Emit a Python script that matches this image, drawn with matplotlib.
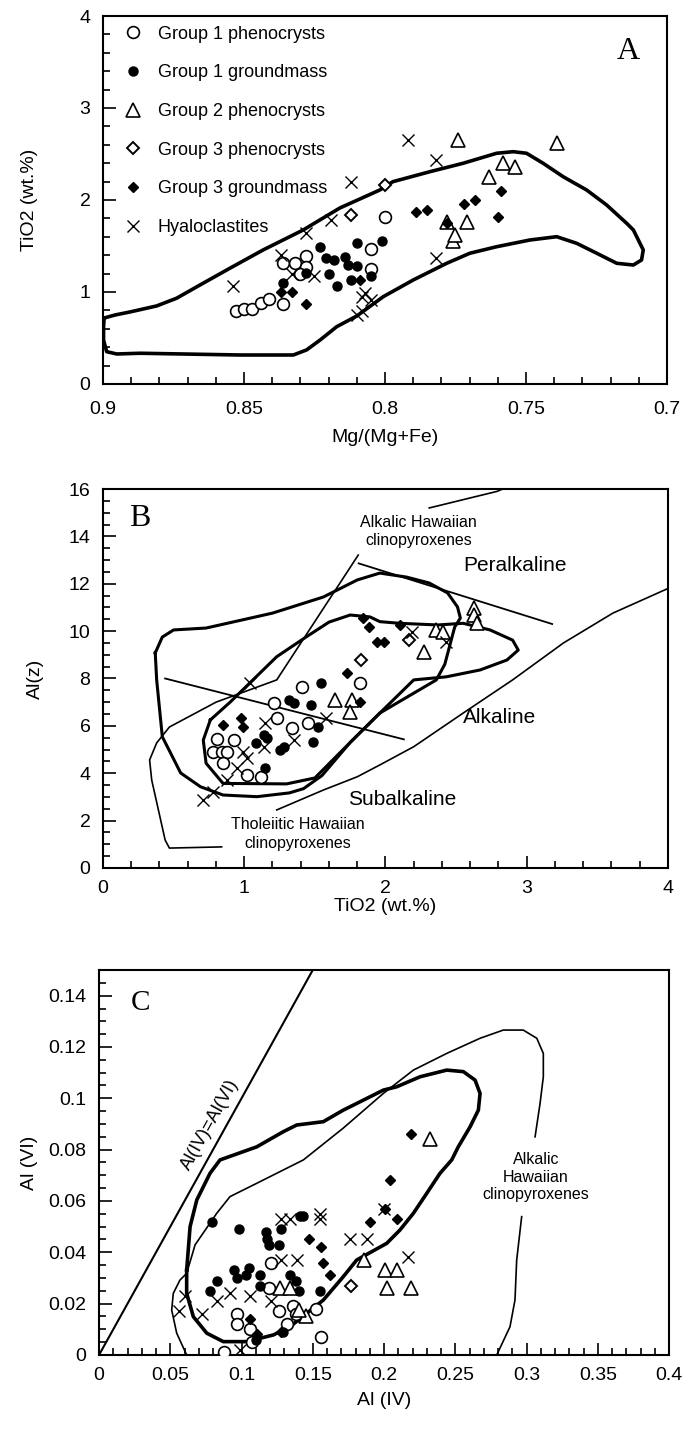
"""Clinopyroxene composition plots (A: TiO2 vs Mg#, B: Al(z) vs TiO2, C: Al(VI) vs Al(IV))."""
import matplotlib
matplotlib.use("Agg")
import matplotlib.pyplot as plt
from matplotlib.ticker import MultipleLocator, FormatStrFormatter

plt.rcParams['font.family'] = ['Liberation Sans', 'DejaVu Sans']

# ---------------- panel A: TiO2 vs Mg/(Mg+Fe)
a_g1p_x = [0.853, 0.850, 0.847, 0.844, 0.841, 0.836, 0.836, 0.832, 0.828, 0.828, 0.830, 0.805, 0.805, 0.800]
a_g1p_y = [0.79, 0.81, 0.82, 0.88, 0.92, 0.87, 1.31, 1.32, 1.39, 1.27, 1.20, 1.47, 1.25, 1.82]
a_g1g_x = [0.823, 0.821, 0.818, 0.814, 0.813, 0.810, 0.810, 0.820, 0.817, 0.812, 0.801, 0.805, 0.836, 0.828]
a_g1g_y = [1.49, 1.37, 1.35, 1.38, 1.29, 1.53, 1.28, 1.20, 1.06, 1.13, 1.55, 1.17, 1.10, 1.21]
a_g2p_x = [0.774, 0.739, 0.758, 0.754, 0.763, 0.778, 0.771, 0.776, 0.775]
a_g2p_y = [2.65, 2.62, 2.40, 2.36, 2.25, 1.76, 1.76, 1.55, 1.62]
a_g3p_x = [0.800, 0.812]
a_g3p_y = [2.16, 1.84]
a_g3g_x = [0.759, 0.768, 0.772, 0.785, 0.789, 0.760, 0.778, 0.837, 0.833, 0.828, 0.809]
a_g3g_y = [2.10, 2.00, 1.96, 1.89, 1.87, 1.81, 1.75, 1.00, 1.00, 0.87, 1.13]
a_hya_x = [0.812, 0.819, 0.792, 0.782, 0.782, 0.854, 0.837, 0.833, 0.828, 0.825, 0.810, 0.808, 0.808, 0.807, 0.805]
a_hya_y = [2.20, 1.78, 2.65, 2.44, 1.37, 1.07, 1.40, 1.20, 1.64, 1.17, 0.75, 0.79, 0.95, 0.99, 0.91]

# outline of field in A
a_field_x = [0.8996, 0.8957, 0.8904, 0.881, 0.8739, 0.8656, 0.855, 0.8432, 0.829, 0.816, 0.8018,
             0.7972, 0.784, 0.7723, 0.7604, 0.7545, 0.7498, 0.7439, 0.7368, 0.7285, 0.7214, 0.7143,
             0.7119, 0.7084, 0.709, 0.7119, 0.7178, 0.7249, 0.732, 0.7391, 0.7486, 0.7604, 0.7699,
             0.7781, 0.79, 0.8006, 0.81, 0.8171, 0.823, 0.8278, 0.8325, 0.8514, 0.8869, 0.8951,
             0.8987, 0.8998, 0.8998, 0.8996]
a_field_y = [0.717, 0.75, 0.783, 0.848, 0.932, 1.076, 1.258, 1.457, 1.674, 1.913, 2.109,
             2.199, 2.308, 2.399, 2.508, 2.525, 2.508, 2.399, 2.253, 2.109, 1.946, 1.747,
             1.674, 1.457, 1.348, 1.293, 1.312, 1.421, 1.529, 1.601, 1.565, 1.492, 1.421,
             1.312, 1.13, 0.949, 0.739, 0.623, 0.478, 0.37, 0.315, 0.315, 0.334, 0.326,
             0.351, 0.478, 0.623, 0.717]

# ---------------- panel B: Al(z) vs TiO2
b_g1p_x = [0.81, 0.93, 0.78, 0.84, 0.88, 0.85, 1.02, 1.12, 1.23, 1.34, 1.45, 1.41, 1.82, 1.21]
b_g1p_y = [5.43, 5.40, 4.91, 4.91, 4.91, 4.42, 3.93, 3.85, 6.32, 5.90, 6.11, 7.65, 7.80, 6.95]
b_g1g_x = [1.32, 1.35, 1.47, 1.54, 1.08, 1.14, 1.16, 1.25, 1.28, 1.15, 1.49, 1.52]
b_g1g_y = [7.09, 6.95, 6.88, 7.80, 5.26, 5.61, 5.47, 4.98, 5.12, 4.21, 5.33, 5.96]
b_g2p_x = [2.63, 2.63, 2.65, 2.36, 2.41, 2.27, 1.64, 1.76, 1.75]
b_g2p_y = [10.96, 10.68, 10.33, 10.05, 9.98, 9.13, 7.09, 7.09, 6.60]
b_g3p_x = [1.83, 2.17]
b_g3p_y = [8.78, 9.62]
b_g3g_x = [0.85, 0.98, 0.99, 1.82, 1.84, 1.88, 1.94, 1.99, 1.73, 2.10]
b_g3g_y = [6.04, 6.32, 5.96, 7.02, 10.54, 10.19, 9.55, 9.55, 8.24, 10.26]
b_hya_x = [1.04, 1.15, 1.14, 0.99, 1.02, 0.95, 0.88, 0.78, 0.71, 1.35, 1.58, 2.43, 2.19]
b_hya_y = [7.80, 6.11, 5.12, 4.91, 4.63, 4.21, 3.71, 3.22, 2.87, 5.40, 6.32, 9.55, 9.98]

b_outer_x = [0.37, 0.42, 0.5, 0.73, 1.2, 1.56, 1.8, 1.96, 2.15, 2.31, 2.44, 2.51, 2.53, 2.49, 2.46,
             2.42, 2.36, 1.96, 1.75, 1.55, 1.42, 1.32, 1.09, 0.85, 0.69, 0.55, 0.42, 0.38, 0.37]
b_outer_y = [9.08, 9.75, 10.05, 10.13, 10.76, 11.44, 12.16, 12.45, 12.28, 12.03, 11.61, 11.02, 10.55,
             10.17, 9.5, 8.6, 7.94, 6.54, 5.3, 3.9, 3.35, 3.17, 3.01, 3.08, 3.43, 4.01, 5.54, 7.94, 9.08]
b_inner_x = [0.76, 0.9, 1.23, 1.44, 1.6, 1.75, 1.89, 1.96, 2.1, 2.37, 2.55, 2.74, 2.9, 2.94, 2.86,
             2.67, 2.43, 2.2, 1.96, 1.7, 1.5, 1.3, 0.85, 0.73, 0.71, 0.76]
b_inner_y = [6.25, 7.0, 8.92, 9.76, 10.38, 10.68, 10.6, 10.4, 10.33, 10.26, 10.33, 10.05, 9.62, 9.2,
             8.78, 8.36, 8.07, 7.94, 6.54, 5.0, 3.8, 3.55, 3.57, 4.42, 5.40, 6.25]
b_thol_x = [0.84, 0.47, 0.44, 0.345, 0.33, 0.38, 0.47, 0.8, 1.23, 1.807]
b_thol_y = [0.89, 0.84, 1.18, 3.71, 4.56, 5.28, 5.95, 7.0, 7.94, 13.21]
b_alkhaw_x = [2.31, 2.79, 2.95]
b_alkhaw_y = [15.2, 15.9, 16.3]
b_divide_x = [1.23, 1.56, 1.8, 1.96, 2.2, 2.55, 2.9, 3.26, 3.61, 4.0]
b_divide_y = [2.45, 3.29, 3.85, 4.35, 5.12, 6.54, 7.94, 9.5, 10.76, 11.8]
b_line1_x = [1.81, 3.18]
b_line1_y = [12.86, 10.30]
b_line2_x = [0.44, 2.13]
b_line2_y = [8.0, 5.43]

# ---------------- panel C: Al(VI) vs Al(IV)
c_g1p_x = [0.121, 0.119, 0.097, 0.097, 0.106, 0.107, 0.088, 0.126, 0.132, 0.136, 0.138, 0.152, 0.156]
c_g1p_y = [0.036, 0.026, 0.016, 0.012, 0.010, 0.005, 0.001, 0.017, 0.012, 0.019, 0.016, 0.018, 0.007]
c_g1g_x = [0.079, 0.098, 0.117, 0.118, 0.119, 0.128, 0.141, 0.143, 0.083, 0.078, 0.095, 0.105, 0.103,
           0.097, 0.113, 0.113, 0.134, 0.138, 0.140, 0.155, 0.126, 0.129, 0.110]
c_g1g_y = [0.052, 0.049, 0.048, 0.045, 0.043, 0.049, 0.054, 0.054, 0.029, 0.025, 0.033, 0.034, 0.031,
           0.030, 0.031, 0.027, 0.031, 0.029, 0.025, 0.025, 0.043, 0.009, 0.006]
c_g2p_x = [0.232, 0.201, 0.209, 0.202, 0.219, 0.186, 0.127, 0.134, 0.145, 0.140]
c_g2p_y = [0.084, 0.033, 0.033, 0.026, 0.026, 0.037, 0.026, 0.026, 0.015, 0.0175]
c_g3p_x = [0.177]
c_g3p_y = [0.027]
c_g3g_x = [0.147, 0.156, 0.157, 0.162, 0.190, 0.201, 0.204, 0.209, 0.219, 0.106, 0.111, 0.128]
c_g3g_y = [0.045, 0.042, 0.036, 0.031, 0.052, 0.057, 0.068, 0.053, 0.086, 0.014, 0.008, 0.009]
c_hya_x = [0.128, 0.134, 0.155, 0.155, 0.128, 0.139, 0.176, 0.188, 0.200, 0.056, 0.060, 0.072, 0.083,
           0.092, 0.106, 0.121, 0.099, 0.217]
c_hya_y = [0.053, 0.053, 0.055, 0.053, 0.037, 0.037, 0.045, 0.045, 0.057, 0.017, 0.023, 0.016, 0.021,
           0.024, 0.023, 0.021, 0.002, 0.038]

c_field_x = [0.0615, 0.0639, 0.0686, 0.0779, 0.0849, 0.1107, 0.1293, 0.1387, 0.1574, 0.1714, 0.1855,
             0.1995, 0.2089, 0.2253, 0.244, 0.2557, 0.2639, 0.2674, 0.2662, 0.2604, 0.2521, 0.2475,
             0.2393, 0.23, 0.2206, 0.2112, 0.2019, 0.1808, 0.1714, 0.1574, 0.1457, 0.134, 0.1223,
             0.1036, 0.0872, 0.0756, 0.0662, 0.0615, 0.0615]
c_field_y = [0.0331, 0.05, 0.0604, 0.0708, 0.076, 0.0811, 0.087, 0.0896, 0.0909, 0.0954, 0.0993,
             0.1032, 0.1045, 0.1084, 0.111, 0.1104, 0.1071, 0.1019, 0.0954, 0.0889, 0.0811, 0.076,
             0.0708, 0.063, 0.0552, 0.0487, 0.0435, 0.037, 0.0305, 0.0214, 0.0162, 0.011, 0.0078,
             0.0052, 0.0052, 0.0085, 0.0149, 0.024, 0.0331]
c_alk1_x = [0.0615, 0.0545, 0.051, 0.0521, 0.0568, 0.0615, 0.0674, 0.0826, 0.0919, 0.1107, 0.1247,
            0.1434, 0.1714, 0.1995, 0.2206, 0.244, 0.2674, 0.2837, 0.2977, 0.3072, 0.3118, 0.3118,
            0.3095, 0.306]
c_alk1_y = [0.0, 0.0085, 0.0175, 0.024, 0.0292, 0.0318, 0.0429, 0.0552, 0.0617, 0.0669, 0.0708,
            0.076, 0.0884, 0.1019, 0.111, 0.1175, 0.1234, 0.1266, 0.1266, 0.1234, 0.1175, 0.1084,
            0.098, 0.085]
c_alk2_x = [0.2966, 0.2931, 0.2919, 0.2884, 0.2791]
c_alk2_y = [0.0539, 0.037, 0.0214, 0.011, 0.0]

STYLES = {
    'g1p': dict(marker='o', ms=8.5, mfc='white', mec='black', mew=1.2, ls='none', label='Group 1 phenocrysts'),
    'g1g': dict(marker='o', ms=6.5, mfc='black', mec='black', mew=1.0, ls='none', label='Group 1 groundmass'),
    'g2p': dict(marker='^', ms=10, mfc='white', mec='black', mew=1.2, ls='none', label='Group 2 phenocrysts'),
    'g3p': dict(marker='D', ms=6.5, mfc='white', mec='black', mew=1.4, ls='none', label='Group 3 phenocrysts'),
    'g3g': dict(marker='D', ms=5, mfc='black', mec='black', mew=1.0, ls='none', label='Group 3 groundmass'),
    'hya': dict(marker='x', ms=8, mfc='none', mec='black', mew=1.0, ls='none', label='Hyaloclastites'),
}


def draw_points(ax, series):
    handles = []
    for key, (xs, ys) in series.items():
        h, = ax.plot(xs, ys, zorder=3, **STYLES[key])
        handles.append(h)
    return handles


def style_axes(ax, xpad=9):
    for s in ax.spines.values():
        s.set_linewidth(1.5)
    ax.tick_params(which='both', direction='in', top=False, right=False, labelsize=14, width=1.2)
    ax.tick_params(which='major', length=9, pad=9)
    ax.tick_params(axis='x', which='major', pad=xpad)
    ax.tick_params(which='minor', length=5)


fig = plt.figure(figsize=(6.94, 14.29), dpi=100)

# ---- A
axA = fig.add_axes([0.1484, 0.7313, 0.8126, 0.2575])
axA.plot(a_field_x, a_field_y, color='black', lw=2.6, zorder=2)
hA = draw_points(axA, {'g1p': (a_g1p_x, a_g1p_y), 'g1g': (a_g1g_x, a_g1g_y), 'g2p': (a_g2p_x, a_g2p_y),
                       'g3p': (a_g3p_x, a_g3p_y), 'g3g': (a_g3g_x, a_g3g_y), 'hya': (a_hya_x, a_hya_y)})
axA.set_xlim(0.9, 0.7)
axA.set_ylim(0, 4)
axA.xaxis.set_major_locator(MultipleLocator(0.05))
axA.xaxis.set_minor_locator(MultipleLocator(0.01))
axA.yaxis.set_major_locator(MultipleLocator(1))
axA.yaxis.set_minor_locator(MultipleLocator(0.2))
axA.xaxis.set_major_formatter(FormatStrFormatter('%g'))
style_axes(axA, xpad=12)
axA.set_xlabel('Mg/(Mg+Fe)', fontsize=14)
axA.set_ylabel('TiO2 (wt.%)', fontsize=14)
axA.xaxis.set_label_coords(0.5, -0.122)
axA.yaxis.set_label_coords(-0.115, 0.5)
axA.text(0.931, 0.903, 'A', transform=axA.transAxes, fontsize=23, family='Liberation Serif',
         ha='center', va='center')
axA.legend(handles=hA, loc='upper left', bbox_to_anchor=(0.037, 0.974), frameon=False, fontsize=13,
           handlelength=1.0, handletextpad=0.89, labelspacing=1.2, borderaxespad=0, borderpad=0)

# ---- B
axB = fig.add_axes([0.1484, 0.3926, 0.8141, 0.2652])
for xs, ys, lw in [(b_outer_x, b_outer_y, 2.2), (b_inner_x, b_inner_y, 2.2), (b_thol_x, b_thol_y, 1.2),
                   (b_alkhaw_x, b_alkhaw_y, 1.2), (b_divide_x, b_divide_y, 1.2),
                   (b_line1_x, b_line1_y, 1.3), (b_line2_x, b_line2_y, 1.3)]:
    axB.plot(xs, ys, color='black', lw=lw, zorder=2)
draw_points(axB, {'g1p': (b_g1p_x, b_g1p_y), 'g1g': (b_g1g_x, b_g1g_y), 'g2p': (b_g2p_x, b_g2p_y),
                  'g3p': (b_g3p_x, b_g3p_y), 'g3g': (b_g3g_x, b_g3g_y), 'hya': (b_hya_x, b_hya_y)})
axB.set_xlim(0, 4)
axB.set_ylim(0, 16)
axB.xaxis.set_major_locator(MultipleLocator(1))
axB.xaxis.set_minor_locator(MultipleLocator(0.2))
axB.yaxis.set_major_locator(MultipleLocator(2))
axB.yaxis.set_minor_locator(MultipleLocator(0.5))
style_axes(axB)
axB.set_xlabel('TiO2 (wt.%)', fontsize=14)
axB.set_ylabel('Al(z)', fontsize=14)
axB.xaxis.set_label_coords(0.5, -0.08)
axB.yaxis.set_label_coords(-0.105, 0.5)
axB.text(0.0655, 0.921, 'B', transform=axB.transAxes, fontsize=23, family='Liberation Serif',
         ha='center', va='center')
axB.text(2.236, 14.2, 'Alkalic Hawaiian\nclinopyroxenes', fontsize=11.5, ha='center', va='center',
         linespacing=1.3)
axB.text(2.917, 12.79, 'Peralkaline', fontsize=15, ha='center', va='center')
axB.text(2.81, 6.37, 'Alkaline', fontsize=15, ha='center', va='center')
axB.text(2.117, 2.91, 'Subalkaline', fontsize=15, ha='center', va='center')
axB.text(1.377, 1.435, 'Tholeiitic Hawaiian\nclinopyroxenes', fontsize=11.5, ha='center', va='center',
         linespacing=1.3)

# ---- C
axC = fig.add_axes([0.1427, 0.0518, 0.8213, 0.2694])
axC.plot([0, 0.15], [0, 0.15], color='black', lw=1.5, zorder=2)
axC.plot(c_field_x, c_field_y, color='black', lw=2.6, zorder=2)
axC.plot(c_alk1_x, c_alk1_y, color='black', lw=1.2, zorder=2)
axC.plot(c_alk2_x, c_alk2_y, color='black', lw=1.2, zorder=2)
draw_points(axC, {'g1p': (c_g1p_x, c_g1p_y), 'g1g': (c_g1g_x, c_g1g_y), 'g2p': (c_g2p_x, c_g2p_y),
                  'g3p': (c_g3p_x, c_g3p_y), 'g3g': (c_g3g_x, c_g3g_y), 'hya': (c_hya_x, c_hya_y)})
axC.set_xlim(0, 0.4)
axC.set_ylim(0, 0.15)
axC.xaxis.set_major_locator(MultipleLocator(0.05))
axC.xaxis.set_minor_locator(MultipleLocator(0.01))
axC.yaxis.set_major_locator(MultipleLocator(0.02))
axC.yaxis.set_minor_locator(MultipleLocator(0.005))
axC.xaxis.set_major_formatter(FormatStrFormatter('%g'))
axC.yaxis.set_major_formatter(FormatStrFormatter('%g'))
style_axes(axC)
axC.set_xlabel('Al (IV)', fontsize=14)
axC.set_ylabel('Al (VI)', fontsize=14)
axC.xaxis.set_label_coords(0.5, -0.096)
axC.yaxis.set_label_coords(-0.107, 0.5)
axC.text(0.072, 0.9135, 'C', transform=axC.transAxes, fontsize=21, family='Liberation Serif',
         ha='center', va='center')
axC.text(0.0779, 0.0896, 'Al(IV)=Al(VI)', fontsize=13, rotation=61, rotation_mode='anchor',
         ha='center', va='center')
axC.text(0.3067, 0.0693, 'Alkalic\nHawaiian\nclinopyroxenes', fontsize=11.5, ha='center', va='center',
         linespacing=1.2)

fig.savefig('out.png', dpi=100)
plt.close(fig)
